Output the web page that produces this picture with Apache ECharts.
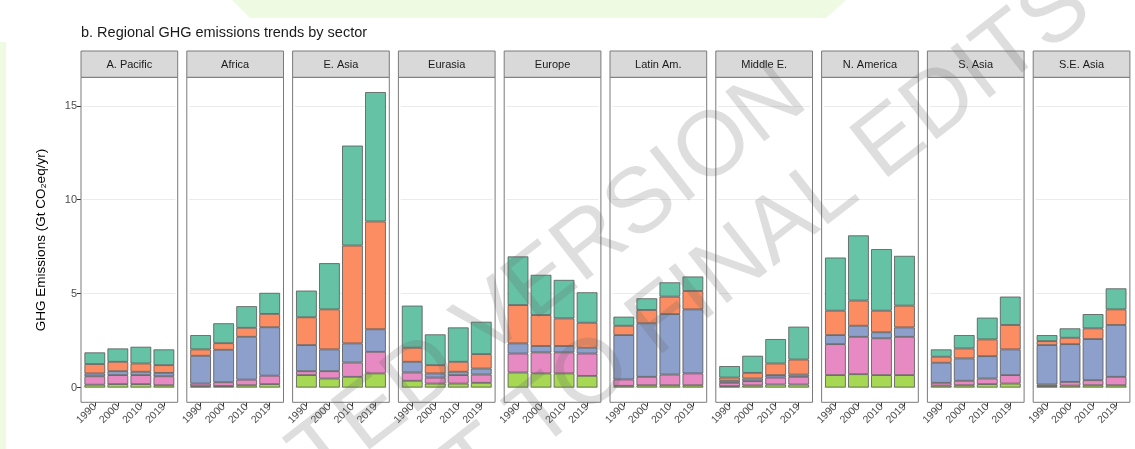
<!DOCTYPE html>
<html>
<head>
<meta charset="utf-8">
<script src="https://cdn.jsdelivr.net/npm/echarts@6/dist/echarts.min.js"></script>
<style>
  html, body { margin: 0; padding: 0; background: #ffffff; }
  #chart { width: 1135px; height: 449px; }
</style>
</head>
<body>
<div id="chart"></div>
<script>
// Regions (facets), years (bars) and y tick values
const regions = ['A. Pacific', 'Africa', 'E. Asia', 'Eurasia', 'Europe', 'Latin Am.', 'Middle E.', 'N. America', 'S. Asia', 'S.E. Asia'];
const years = ['1990', '2000', '2010', '2019'];
const yTicks = [0, 5, 10, 15];

// Emissions by sector, Gt CO2eq/yr: one row per region, one value per year
const buildings = [
  [0.15, 0.18, 0.18, 0.12], [0.07, 0.08, 0.12, 0.18], [0.66, 0.48, 0.57, 0.75], [0.36, 0.21, 0.21, 0.25], [0.80, 0.75, 0.75, 0.62],
  [0.09, 0.12, 0.12, 0.12], [0.07, 0.11, 0.16, 0.16], [0.66, 0.71, 0.66, 0.66], [0.10, 0.12, 0.18, 0.21], [0.07, 0.10, 0.12, 0.12]
];
const transport = [
  [0.45, 0.48, 0.48, 0.48], [0.14, 0.20, 0.30, 0.45], [0.21, 0.39, 0.76, 1.15], [0.44, 0.32, 0.45, 0.44], [1.01, 1.12, 1.12, 1.19],
  [0.34, 0.45, 0.57, 0.63], [0.18, 0.23, 0.37, 0.41], [1.65, 1.99, 1.96, 2.04], [0.15, 0.24, 0.30, 0.45], [0.09, 0.20, 0.27, 0.45]
];
const afolu = [
  [0.15, 0.21, 0.18, 0.18], [1.48, 1.73, 2.28, 2.58], [1.39, 1.16, 1.02, 1.20], [0.57, 0.22, 0.18, 0.32], [0.54, 0.34, 0.34, 0.31],
  [2.36, 2.85, 3.22, 3.41], [0.11, 0.14, 0.13, 0.12], [0.48, 0.59, 0.32, 0.50], [1.07, 1.19, 1.19, 1.37], [2.10, 2.01, 2.19, 2.76]
];
const industry = [
  [0.50, 0.50, 0.44, 0.41], [0.34, 0.35, 0.48, 0.71], [1.48, 2.13, 5.21, 5.74], [0.75, 0.44, 0.53, 0.77], [2.04, 1.65, 1.47, 1.33],
  [0.50, 0.71, 0.93, 0.98], [0.17, 0.30, 0.62, 0.80], [1.30, 1.34, 1.15, 1.16], [0.32, 0.53, 0.89, 1.30], [0.21, 0.34, 0.57, 0.83]
];
const energy = [
  [0.62, 0.71, 0.89, 0.84], [0.76, 1.06, 1.15, 1.12], [1.42, 2.46, 5.32, 6.89], [2.24, 1.64, 1.83, 1.72], [2.59, 2.14, 2.05, 1.62],
  [0.48, 0.62, 0.76, 0.77], [0.61, 0.91, 1.30, 1.75], [2.83, 3.47, 3.28, 2.65], [0.39, 0.71, 1.16, 1.51], [0.32, 0.50, 0.76, 1.12]
];

// Stacking order, bottom to top
const sectorNames = ['Buildings', 'Transport', 'AFOLU', 'Industry', 'Energy systems'];
const sectorData = [buildings, transport, afolu, industry, energy];
const sectorColors = ['#a6d854', '#e78ac3', '#8da0cb', '#fc8d62', '#66c2a5'];

const FONT = '"Liberation Sans", Arial, Helvetica, sans-serif';

// Facet geometry
const PANEL_X0 = 81, PANEL_STEP = 105.8, PANEL_W = 96.7;
const PANEL_TOP = 77.3, PANEL_H = 325;
const STRIP_TOP = 51, STRIP_H = 26.3;
const EXPAND = 0.6; // discrete axis padding, in category units
const bandW = PANEL_W / (years.length - 1 + 2 * EXPAND);
const gridInset = PANEL_W * EXPAND / (years.length - 1 + 2 * EXPAND) - bandW / 2;
const barW = bandW * 0.9;

// Shared y range with 5% padding on both ends
let maxTotal = 0;
regions.forEach((r, i) => {
  years.forEach((y, j) => {
    let s = 0;
    sectorData.forEach(d => { s += d[i][j]; });
    maxTotal = Math.max(maxTotal, s);
  });
});
const yMin = -0.05 * maxTotal, yMax = 1.05 * maxTotal;

const grids = [], xAxes = [], yAxes = [], series = [], graphics = [];

// Page decoration behind the chart
graphics.push({
  type: 'polygon', z: -10, silent: true,
  shape: { points: [[232, 0], [846, 0], [826, 18], [250, 18]] },
  style: { fill: '#eefae2' }
});
graphics.push({
  type: 'rect', z: -10, silent: true,
  shape: { x: 0, y: 42, width: 6, height: 407 },
  style: { fill: '#eefae2' }
});

regions.forEach((region, i) => {
  const px = PANEL_X0 + i * PANEL_STEP;
  grids.push({ left: px + gridInset, top: PANEL_TOP, width: bandW * years.length, height: PANEL_H, containLabel: false });
  xAxes.push({
    type: 'category', gridIndex: i, data: years,
    axisLine: { show: false, onZero: false },
    axisTick: { show: true, alignWithLabel: true, length: 4, lineStyle: { color: '#333333', width: 1 } },
    axisLabel: { rotate: 45, interval: 0, fontSize: 10.5, color: '#4d4d4d', margin: 3, fontFamily: FONT },
    splitLine: { show: false }
  });
  yAxes.push({
    type: 'value', gridIndex: i, min: yMin, max: yMax,
    offset: gridInset,
    axisLine: { show: false },
    axisTick: { show: i === 0, customValues: yTicks, length: 4, lineStyle: { color: '#333333', width: 1 } },
    axisLabel: { show: i === 0, customValues: yTicks, fontSize: 11, color: '#4d4d4d', margin: 4, fontFamily: FONT },
    splitLine: { show: true, lineStyle: { color: '#ebebeb', width: 1 } }
  });
  sectorNames.forEach((name, k) => {
    series.push({
      name: name, type: 'bar', xAxisIndex: i, yAxisIndex: i, stack: 'region' + i,
      barWidth: barW,
      data: sectorData[k][i],
      itemStyle: { color: sectorColors[k], borderColor: '#555555', borderWidth: 0.8 },
      emphasis: { disabled: true }
    });
  });
  // Panel frame
  graphics.push({
    type: 'rect', z: 50, silent: true,
    shape: { x: px, y: PANEL_TOP, width: PANEL_W, height: PANEL_H },
    style: { fill: 'none', stroke: '#7a7a7a', lineWidth: 1 }
  });
  // Facet strip
  graphics.push({
    type: 'rect', z: 50, silent: true,
    shape: { x: px, y: STRIP_TOP, width: PANEL_W, height: STRIP_H },
    style: { fill: '#d9d9d9', stroke: '#7a7a7a', lineWidth: 1 }
  });
  graphics.push({
    type: 'text', z: 51, silent: true,
    x: px + PANEL_W / 2, y: STRIP_TOP + STRIP_H / 2 + 0.5,
    style: { text: region, font: '11px ' + FONT, fill: '#1a1a1a', textAlign: 'center', textVerticalAlign: 'middle', align: 'center', verticalAlign: 'middle' }
  });
});

// Title and y-axis title
graphics.push({
  type: 'text', z: 51, silent: true, x: 81, y: 33,
  style: { text: 'b. Regional GHG emissions trends by sector', font: '14.5px ' + FONT, fill: '#1a1a1a', textAlign: 'left', textVerticalAlign: 'middle', align: 'left', verticalAlign: 'middle' }
});
graphics.push({
  type: 'text', z: 51, silent: true, x: 41.5, y: 240, rotation: Math.PI / 2,
  style: { text: 'GHG Emissions (Gt CO\u2082eq/yr)', font: '13.5px ' + FONT, fill: '#000000', textAlign: 'center', textVerticalAlign: 'middle', align: 'center', verticalAlign: 'middle' }
});

// Draft watermark across the figure
const wmAngle = 38 * Math.PI / 180;
[
  { text: 'ACCEPTED VERSION', x: 795, y: 85 },
  { text: 'SUBJECT TO FINAL EDITS', x: 1080, y: -5 }
].forEach(w => {
  graphics.push({
    type: 'text', z: 200, silent: true, x: w.x, y: w.y, rotation: wmAngle,
    style: { text: w.text, font: '92px ' + FONT, fill: 'rgba(100,100,100,0.21)', textAlign: 'right', textVerticalAlign: 'middle', align: 'right', verticalAlign: 'middle' }
  });
});

const chart = echarts.init(document.getElementById('chart'), null, { renderer: 'canvas' });
chart.setOption({
  animation: false,
  backgroundColor: '#ffffff',
  textStyle: { fontFamily: FONT },
  grid: grids,
  xAxis: xAxes,
  yAxis: yAxes,
  series: series,
  graphic: { elements: graphics }
});
</script>
</body>
</html>
